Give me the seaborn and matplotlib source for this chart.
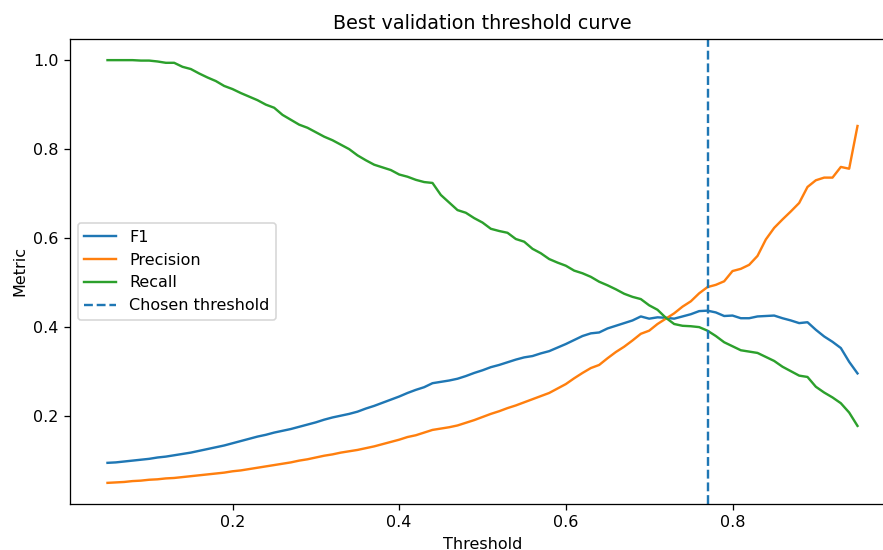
import numpy as np
import pandas as pd
import matplotlib
matplotlib.use("Agg")
import matplotlib.pyplot as plt
import seaborn as sns

thresholds = [round(0.05 + 0.01 * i, 2) for i in range(91)]

recall = [1.000, 1.000, 1.000, 1.000, 0.999, 0.999, 0.997, 0.994, 0.994, 0.985,
          0.980, 0.970, 0.961, 0.953, 0.942, 0.935, 0.926, 0.918, 0.910, 0.900,
          0.893, 0.877, 0.866, 0.855, 0.848, 0.838, 0.828, 0.820, 0.810, 0.800,
          0.786, 0.775, 0.765, 0.759, 0.753, 0.743, 0.738, 0.731, 0.726, 0.724,
          0.697, 0.680, 0.663, 0.657, 0.645, 0.635, 0.621, 0.616, 0.612, 0.598,
          0.592, 0.576, 0.566, 0.553, 0.545, 0.538, 0.527, 0.521, 0.513, 0.502,
          0.494, 0.485, 0.475, 0.468, 0.463, 0.449, 0.439, 0.421, 0.407, 0.403,
          0.402, 0.400, 0.392, 0.380, 0.366, 0.357, 0.348, 0.345, 0.342, 0.333,
          0.324, 0.311, 0.301, 0.291, 0.288, 0.266, 0.253, 0.242, 0.229, 0.208,
          0.178]

precision = [0.050, 0.051, 0.052, 0.054, 0.055, 0.057, 0.058, 0.060, 0.061, 0.063,
             0.065, 0.067, 0.069, 0.071, 0.073, 0.076, 0.078, 0.081, 0.084, 0.087,
             0.090, 0.093, 0.096, 0.100, 0.103, 0.107, 0.111, 0.114, 0.118, 0.121,
             0.124, 0.128, 0.132, 0.137, 0.142, 0.147, 0.153, 0.157, 0.163, 0.169,
             0.172, 0.175, 0.179, 0.185, 0.191, 0.198, 0.205, 0.211, 0.218, 0.224,
             0.231, 0.238, 0.245, 0.252, 0.262, 0.272, 0.285, 0.297, 0.308, 0.315,
             0.330, 0.344, 0.356, 0.370, 0.385, 0.392, 0.407, 0.419, 0.431, 0.446,
             0.458, 0.476, 0.490, 0.495, 0.503, 0.526, 0.531, 0.540, 0.560, 0.597,
             0.623, 0.642, 0.660, 0.679, 0.715, 0.730, 0.736, 0.736, 0.760, 0.756,
             0.852]

f1 = [0.095, 0.096, 0.098, 0.100, 0.102, 0.104, 0.107, 0.109, 0.112, 0.115,
      0.118, 0.122, 0.126, 0.130, 0.134, 0.139, 0.144, 0.149, 0.154, 0.158,
      0.163, 0.167, 0.171, 0.176, 0.181, 0.186, 0.192, 0.197, 0.201, 0.205,
      0.210, 0.217, 0.223, 0.230, 0.237, 0.244, 0.252, 0.259, 0.265, 0.274,
      0.277, 0.280, 0.284, 0.290, 0.297, 0.303, 0.310, 0.315, 0.321, 0.327,
      0.332, 0.335, 0.341, 0.346, 0.354, 0.362, 0.371, 0.380, 0.386, 0.388,
      0.397, 0.403, 0.409, 0.415, 0.424, 0.419, 0.422, 0.421, 0.419, 0.424,
      0.429, 0.436, 0.437, 0.433, 0.425, 0.426, 0.420, 0.420, 0.424, 0.425,
      0.426, 0.420, 0.415, 0.409, 0.411, 0.394, 0.379, 0.367, 0.353, 0.322,
      0.296]

chosen_threshold = 0.77

series_names = ["F1", "Precision", "Recall"]

df = pd.DataFrame({
    "Threshold": thresholds * 3,
    "Metric": f1 + precision + recall,
    "series": [n for n in series_names for _ in thresholds],
})

DPI = 115
W, H = 883, 550
fig = plt.figure(figsize=(W / DPI, H / DPI), dpi=DPI)
# axes: left spine at x=70, top at y=39, bottom at y=504, right spine beyond the image (~895)
ax = fig.add_axes([70 / W, 1 - 504 / H, (895 - 70) / W, (504 - 39) / H])

sns.lineplot(data=df, x="Threshold", y="Metric", hue="series",
             hue_order=series_names,
             palette=["#1f77b4", "#ff7f0e", "#2ca02c"], ax=ax, linewidth=1.5)
ax.axvline(chosen_threshold, linestyle="--", color="#1f77b4", linewidth=1.5,
           label="Chosen threshold")

ax.set_title("Best validation threshold curve")
ax.set_xlabel("Threshold")
ax.set_ylabel("Metric")
ax.set_xticks([0.2, 0.4, 0.6, 0.8])
ax.set_yticks([0.2, 0.4, 0.6, 0.8, 1.0])
ax.spines["right"].set_visible(False)
handles, labels = ax.get_legend_handles_labels()
ax.legend(handles, labels, loc="center left", title=None)

fig.savefig("out.png", dpi=DPI)
